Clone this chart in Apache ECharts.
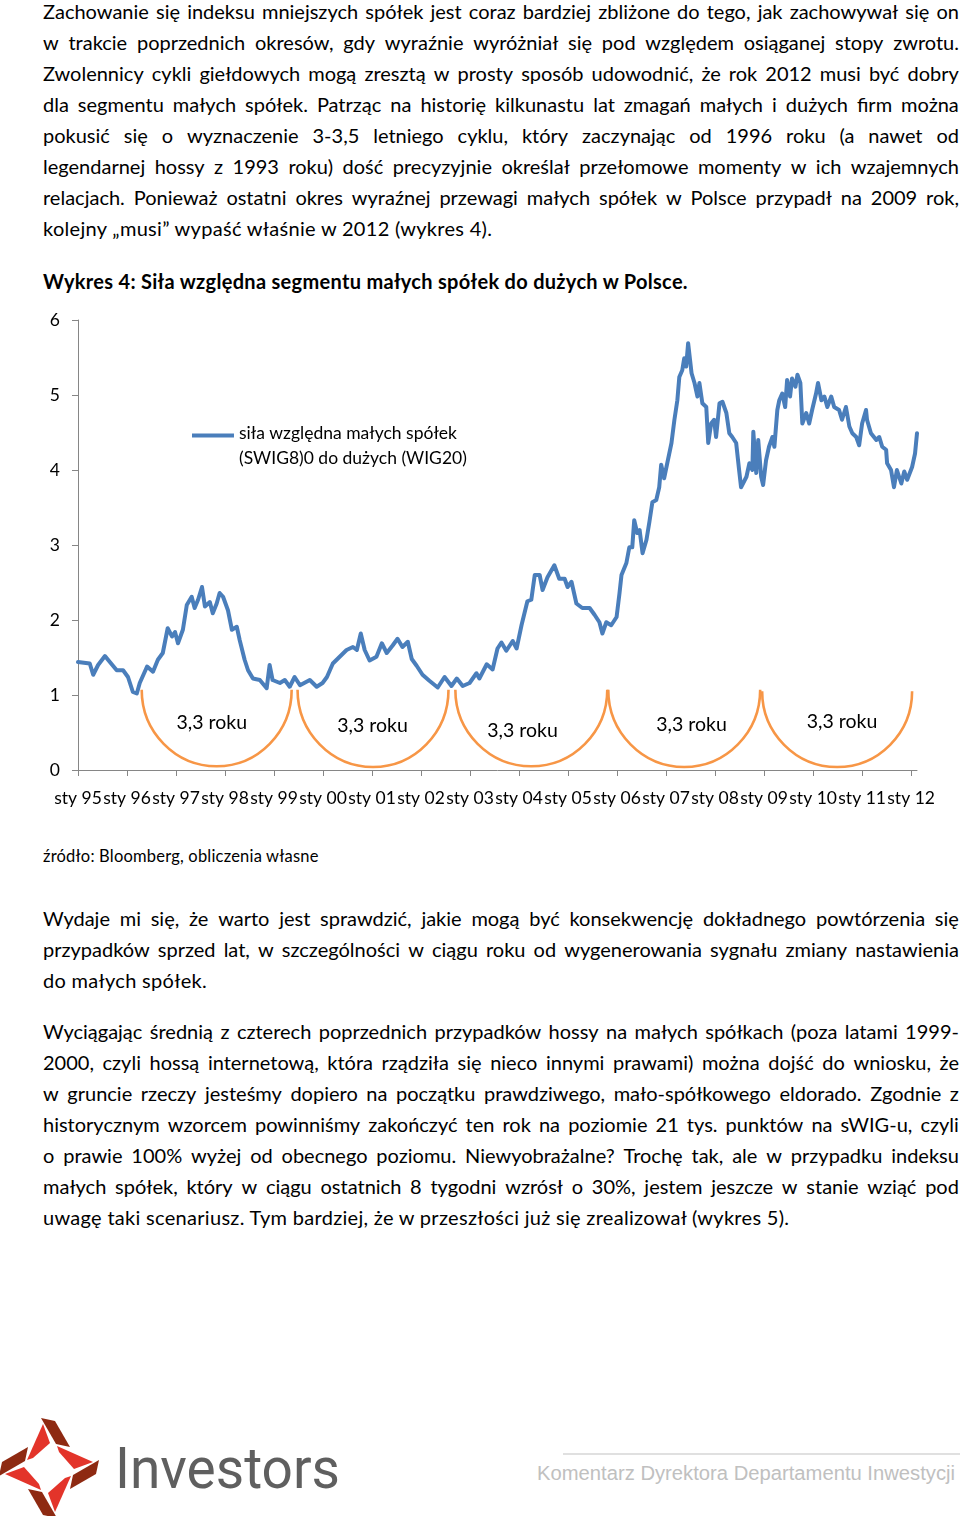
<!DOCTYPE html>
<html><head><meta charset="utf-8">
<script src="https://cdn.jsdelivr.net/npm/echarts@6/dist/echarts.min.js"></script>
<style>
html,body{margin:0;padding:0;background:#fff;}
body{width:960px;height:1516px;position:relative;overflow:hidden;font-family:Lato,'Open Sans',sans-serif;color:#000;}
.ln{position:absolute;left:43px;width:916px;height:31px;line-height:31px;font-size:20px;letter-spacing:0.3px;white-space:nowrap;}
.ln.j{display:flex;justify-content:space-between;letter-spacing:0;}
.hd{font-weight:bold;}
#chart{position:absolute;left:0;top:300px;width:960px;height:530px;}
#foot{position:absolute;left:0;top:1416px;}
</style></head>
<body>
<div id="text"></div>
<div id="chart"></div>
<svg id="foot" width="960" height="100" viewBox="0 0 960 100"></svg>
<script>
// ---------- chart data ----------
const seriesName = 'siła względna małych spółek\n(SWIG8)0 do dużych (WIG20)';
const dates = [1995.00,1995.24,1995.31,1995.41,1995.55,1995.65,1995.79,1995.92,1996.02,1996.12,1996.20,1996.26,1996.41,1996.53,1996.63,1996.73,1996.83,1996.92,1996.98,1997.04,1997.14,1997.22,1997.32,1997.38,1997.45,1997.53,1997.59,1997.69,1997.75,1997.83,1997.89,1997.96,1998.06,1998.14,1998.24,1998.30,1998.40,1998.47,1998.57,1998.71,1998.85,1998.91,1998.97,1999.12,1999.22,1999.32,1999.42,1999.53,1999.73,1999.87,1999.99,2000.08,2000.20,2000.34,2000.48,2000.61,2000.69,2000.77,2000.85,2000.95,2001.09,2001.20,2001.30,2001.42,2001.52,2001.62,2001.73,2001.81,2001.91,2002.03,2002.17,2002.34,2002.48,2002.62,2002.73,2002.85,2002.99,2003.13,2003.19,2003.34,2003.46,2003.56,2003.64,2003.74,2003.87,2003.95,2004.05,2004.17,2004.25,2004.32,2004.42,2004.48,2004.58,2004.72,2004.82,2004.93,2004.99,2005.07,2005.17,2005.29,2005.44,2005.54,2005.64,2005.70,2005.78,2005.88,2005.99,2006.05,2006.09,2006.19,2006.25,2006.31,2006.35,2006.41,2006.46,2006.52,2006.60,2006.66,2006.72,2006.80,2006.86,2006.90,2006.96,2007.03,2007.11,2007.17,2007.23,2007.27,2007.33,2007.37,2007.41,2007.45,2007.52,2007.58,2007.64,2007.68,2007.74,2007.82,2007.86,2007.92,2007.98,2008.02,2008.09,2008.15,2008.23,2008.29,2008.35,2008.43,2008.49,2008.53,2008.64,2008.70,2008.76,2008.78,2008.84,2008.88,2008.94,2008.98,2009.04,2009.10,2009.17,2009.21,2009.27,2009.31,2009.37,2009.43,2009.47,2009.53,2009.57,2009.64,2009.68,2009.74,2009.78,2009.86,2009.92,2009.98,2010.06,2010.10,2010.17,2010.23,2010.29,2010.37,2010.43,2010.53,2010.59,2010.67,2010.74,2010.80,2010.88,2010.94,2011.00,2011.08,2011.10,2011.18,2011.29,2011.35,2011.41,2011.49,2011.51,2011.59,2011.65,2011.71,2011.80,2011.86,2011.92,2012.02,2012.08,2012.12];
const ratio = [1.44,1.42,1.27,1.40,1.52,1.44,1.33,1.33,1.24,1.04,1.02,1.16,1.38,1.31,1.47,1.56,1.89,1.78,1.84,1.69,1.87,2.20,2.31,2.16,2.27,2.44,2.18,2.24,2.09,2.22,2.36,2.31,2.13,1.87,1.91,1.73,1.47,1.33,1.22,1.20,1.09,1.40,1.20,1.16,1.20,1.11,1.24,1.13,1.20,1.11,1.16,1.24,1.42,1.51,1.60,1.64,1.60,1.82,1.60,1.46,1.51,1.69,1.56,1.66,1.75,1.64,1.71,1.48,1.39,1.27,1.19,1.10,1.24,1.12,1.22,1.12,1.16,1.29,1.22,1.41,1.34,1.62,1.70,1.59,1.72,1.62,1.93,2.25,2.27,2.60,2.60,2.40,2.57,2.73,2.55,2.55,2.44,2.51,2.22,2.16,2.16,2.07,1.97,1.82,1.97,1.93,2.04,2.36,2.60,2.76,2.97,2.97,3.33,3.16,3.20,2.89,3.07,3.31,3.57,3.60,3.77,4.07,3.89,4.11,4.36,4.67,4.93,5.24,5.33,5.49,5.38,5.69,5.29,5.16,4.98,5.16,4.89,4.84,4.36,4.62,4.67,4.44,4.89,4.91,4.76,4.49,4.44,4.36,4.00,3.77,3.91,4.09,4.00,4.51,3.96,4.40,3.91,3.80,4.13,4.31,4.44,4.31,4.80,4.93,5.02,4.84,5.20,4.98,5.22,5.11,5.27,5.16,4.62,4.76,4.62,4.80,5.02,5.16,4.93,4.98,4.84,4.98,4.84,4.80,4.67,4.84,4.58,4.49,4.44,4.33,4.62,4.80,4.67,4.49,4.40,4.44,4.31,4.27,4.09,4.00,3.77,4.00,3.82,3.98,3.87,4.04,4.22,4.49];
const tickYears = [1995,1996,1997,1998,1999,2000,2001,2002,2003,2004,2005,2006,2007,2008,2009,2010,2011,2012];
const tickLabels = ['sty 95','sty 96','sty 97','sty 98','sty 99','sty 00','sty 01','sty 02','sty 03','sty 04','sty 05','sty 06','sty 07','sty 08','sty 09','sty 10','sty 11','sty 12'];
const yTicks = [0,1,2,3,4,5,6];
// cycle arcs (annotation)
const arcStart = [1996.30,1999.48,2002.70,2005.82,2008.96];
const arcEnd   = [1999.36,2002.56,2005.80,2008.92,2012.02];
const arcTop   = [1.07,1.07,1.07,1.07,1.05];
const arcBottom= [0.05,0.04,0.05,0.04,0.04];
const arcLabelX= [1997.73,2001.01,2004.07,2007.52,2010.59];
const arcLabelY= [0.63,0.59,0.53,0.61,0.64];
const arcLabels= ['3,3 roku','3,3 roku','3,3 roku','3,3 roku','3,3 roku'];

// ---------- page text ----------
const para1 = [
 'Zachowanie się indeksu mniejszych spółek jest coraz bardziej zbliżone do tego, jak zachowywał się on',
 'w trakcie poprzednich okresów, gdy wyraźnie wyróżniał się pod względem osiąganej stopy zwrotu.',
 'Zwolennicy cykli giełdowych mogą zresztą w prosty sposób udowodnić, że rok 2012 musi być dobry',
 'dla segmentu małych spółek. Patrząc na historię kilkunastu lat zmagań małych i dużych firm można',
 'pokusić się o wyznaczenie 3-3,5 letniego cyklu, który zaczynając od 1996 roku (a nawet od',
 'legendarnej hossy z 1993 roku) dość precyzyjnie określał przełomowe momenty w ich wzajemnych',
 'relacjach. Ponieważ ostatni okres wyraźnej przewagi małych spółek w Polsce przypadł na 2009 rok,',
 'kolejny „musi” wypaść właśnie w 2012 (wykres 4).'
];
const heading = 'Wykres 4: Siła względna segmentu małych spółek do dużych w Polsce.';
const source = 'źródło: Bloomberg, obliczenia własne';
const para2 = [
 'Wydaje mi się, że warto jest sprawdzić, jakie mogą być konsekwencję dokładnego powtórzenia się',
 'przypadków sprzed lat, w szczególności w ciągu roku od wygenerowania sygnału zmiany nastawienia',
 'do małych spółek.'
];
const para3 = [
 'Wyciągając średnią z czterech poprzednich przypadków hossy na małych spółkach (poza latami 1999-',
 '2000, czyli hossą internetową, która rządziła się nieco innymi prawami) można dojść do wniosku, że',
 'w gruncie rzeczy jesteśmy dopiero na początku prawdziwego, mało-spółkowego eldorado. Zgodnie z',
 'historycznym wzorcem powinniśmy zakończyć ten rok na poziomie 21 tys. punktów na sWIG-u, czyli',
 'o prawie 100% wyżej od obecnego poziomu. Niewyobrażalne? Trochę tak, ale w przypadku indeksu',
 'małych spółek, który w ciągu ostatnich 8 tygodni wzrósł o 30%, jestem jeszcze w stanie wziąć pod',
 'uwagę taki scenariusz. Tym bardziej, że w przeszłości już się zrealizował (wykres 5).'
];
const footerText = 'Komentarz Dyrektora Departamentu Inwestycji';
const brand = 'Investors';

const textRoot = document.getElementById('text');
function addLine(str, centerY, justify, cls, size, ls) {
  const d = document.createElement('div');
  d.className = 'ln' + (justify ? ' j' : '') + (cls ? ' ' + cls : '');
  d.style.top = (centerY - 15.5) + 'px';
  if (size) d.style.fontSize = size + 'px';
  if (ls != null) d.style.letterSpacing = ls + 'px';
  if (justify) {
    str.split(' ').forEach(w => { const s = document.createElement('span'); s.textContent = w; d.appendChild(s); });
  } else d.textContent = str;
  textRoot.appendChild(d);
}
function addPara(lines, firstCenter, step) {
  lines.forEach((l, i) => addLine(l, firstCenter + i * step, i < lines.length - 1));
}
addPara(para1, 11, 31.0);
addLine(heading, 281, false, 'hd', 20, 0.3);
addLine(source, 856, false, null, 16.5, 0.2);
addPara(para2, 918, 31.0);
addPara(para3, 1031, 31.1);

// ---------- footer ----------
(function(){
  const svg = document.getElementById('foot');
  const NS = 'http://www.w3.org/2000/svg';
  const cx = 49, cy = 52;
  const red = [[43,8],[50,27],[33,42],[27,44]];
  const dark = [[41,2],[55,5],[70,31],[56,28]];
  function rot(pts, k) {
    return pts.map(p => { let dx = p[0]-cx, dy = p[1]-cy; for (let i=0;i<k;i++){ const t=dx; dx=-dy; dy=t; } return [cx+dx, cy+dy]; });
  }
  const g = document.createElementNS(NS,'g');
  for (let k=0;k<4;k++) {
    [[red,'#E3342A'],[dark,'#8E2A12']].forEach(([pts,col]) => {
      const p = document.createElementNS(NS,'polygon');
      p.setAttribute('points', rot(pts,k).map(q=>q.join(',')).join(' '));
      p.setAttribute('fill', col);
      g.appendChild(p);
    });
  }
  svg.appendChild(g);
  const t = document.createElementNS(NS,'text');
  t.setAttribute('x','115'); t.setAttribute('y','72');
  t.setAttribute('textLength','225'); t.setAttribute('lengthAdjust','spacingAndGlyphs');
  t.setAttribute('font-family','Roboto, sans-serif'); t.setAttribute('font-size','57');
  t.setAttribute('fill','#5f5f5f'); t.textContent = brand; svg.appendChild(t);
  const l = document.createElementNS(NS,'line');
  l.setAttribute('x1','563'); l.setAttribute('x2','960'); l.setAttribute('y1','38'); l.setAttribute('y2','38');
  l.setAttribute('stroke','#d6d6d6'); l.setAttribute('stroke-width','1.5'); svg.appendChild(l);
  const f = document.createElementNS(NS,'text');
  f.setAttribute('x','537'); f.setAttribute('y','64');
  f.setAttribute('textLength','418'); f.setAttribute('lengthAdjust','spacingAndGlyphs');
  f.setAttribute('font-family','Liberation Sans, Arial, sans-serif'); f.setAttribute('font-size','20');
  f.setAttribute('fill','#c0c0c0'); f.textContent = footerText; svg.appendChild(f);
})();

// ---------- chart ----------
const chart = echarts.init(document.getElementById('chart'), null, {renderer:'canvas'});
const arcData = arcStart.map((s,i)=>[s, arcEnd[i], arcTop[i], arcBottom[i], arcLabelX[i], arcLabelY[i]]);
chart.setOption({
  animation:false,
  textStyle:{fontFamily:'Lato'},
  grid:{left:78,right:43,top:20,bottom:60,containLabel:false},
  legend:{
    data:[seriesName], left:187, top:116, itemWidth:42, itemHeight:25, itemGap:0,
    icon:'path://M0,0H42V4H0Z M0,25H42V25.01H0Z',
    textStyle:{fontSize:17.5,lineHeight:25,color:'#000',fontFamily:'Lato',padding:[0,0,0,0]},
    selectedMode:false
  },
  xAxis:{
    type:'value', min:1995, max:2012.12, interval:1,
    axisLine:{lineStyle:{color:'#868686',width:1}},
    axisTick:{length:6,lineStyle:{color:'#868686'},customValues:tickYears},
    axisLabel:{customValues:tickYears, formatter:v=>tickLabels[tickYears.indexOf(Math.round(v))], fontSize:17.5, color:'#000', margin:19, fontFamily:'Lato'},
    splitLine:{show:false}
  },
  yAxis:{
    type:'value', min:yTicks[0], max:yTicks[yTicks.length-1], interval:1,
    axisLine:{show:true,lineStyle:{color:'#868686',width:1}},
    axisTick:{show:true,length:6,lineStyle:{color:'#868686'}},
    axisLabel:{fontSize:17.5,color:'#000',margin:18,fontFamily:'Lato'},
    splitLine:{show:false}
  },
  series:[
    {type:'custom', name:'arcs', silent:true, z:1, data:arcData,
     renderItem:function(params, api){
       const x0=api.value(0), x1=api.value(1), yt=api.value(2), yb=api.value(3), lx=api.value(4), ly=api.value(5);
       const p0=api.coord([x0,yt]), p1=api.coord([x1,yt]), pb=api.coord([(x0+x1)/2,yb]);
       const cxx=(p0[0]+p1[0])/2, rx=(p1[0]-p0[0])/2, ry=pb[1]-p0[1], k=0.5523;
       const d='M'+p0[0]+','+p0[1]+' C'+p0[0]+','+(p0[1]+k*ry)+' '+(cxx-k*rx)+','+pb[1]+' '+cxx+','+pb[1]+
               ' C'+(cxx+k*rx)+','+pb[1]+' '+p1[0]+','+(p1[1]+k*ry)+' '+p1[0]+','+p1[1];
       const lp=api.coord([lx,ly]);
       return {type:'group', children:[
         {type:'path', shape:{pathData:d}, style:{fill:'none', stroke:'#F79646', lineWidth:2.6}},
         {type:'text', x:lp[0], y:lp[1], style:{text:arcLabels[params.dataIndex], fill:'#000', font:'19.5px Lato', align:'center', verticalAlign:'middle'}}
       ]};
     }},
    {type:'line', name:seriesName, z:3, symbol:'none', showSymbol:false,
     data:dates.map((d,i)=>[d, ratio[i]]),
     lineStyle:{color:'#4A7EBB', width:4, join:'round', cap:'round'},
     itemStyle:{color:'#4A7EBB'}}
  ]
});
</script>
</body></html>
